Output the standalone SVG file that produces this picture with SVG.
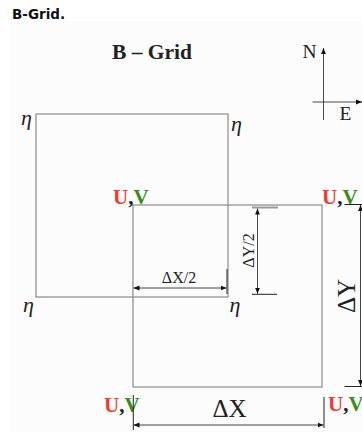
<svg xmlns="http://www.w3.org/2000/svg" width="362" height="432" viewBox="0 0 362 432">
<defs>
<style>
.cell{fill:none;stroke:#8a8a8a;stroke-width:1.2}
.dim{fill:none;stroke:#333;stroke-width:0.9}
.tick{fill:none;stroke:#222;stroke-width:1}
.eta{font-family:"Liberation Serif","Times New Roman",serif;font-style:italic;font-size:22px;fill:#222}
.uv{font-family:"Liberation Serif","Times New Roman",serif;font-weight:bold;font-size:21px}
.u{fill:#ee3b35}
.v{fill:#3a8c1c}
.c{fill:#222}
.lab{font-family:"Liberation Serif","Times New Roman",serif;fill:#222}
</style>
<marker id="ah" viewBox="0 0 10 10" refX="10" refY="5" markerWidth="6" markerHeight="6" markerUnits="userSpaceOnUse" orient="auto-start-reverse">
<path d="M0,1 L10,5 L0,9 Z" fill="#111"/>
</marker>
</defs>
<rect x="0" y="0" width="362" height="432" fill="#ffffff"/>
<rect x="10" y="21" width="352" height="411" fill="#fcfcfc"/>
<text x="12" y="19" font-family="DejaVu Sans, sans-serif" font-weight="bold" font-size="13.5" fill="#111">B-Grid.</text>
<text x="152" y="59" text-anchor="middle" font-family="Liberation Serif, serif" font-weight="bold" font-size="21.5" fill="#222">B – Grid</text>

<g id="compass">
<line class="dim" x1="323.5" y1="120" x2="323.5" y2="48" marker-end="url(#ah)" stroke="#666"/>
<line class="dim" x1="312.5" y1="102" x2="362" y2="102" marker-end="url(#ah)" stroke="#666"/>
<text class="lab" x="302.5" y="58" font-size="19.5">N</text>
<text class="lab" x="339.5" y="120" font-size="19.5">E</text>
</g>

<g id="eta-cell">
<rect class="cell" x="36" y="114" width="192" height="183"/>
<text class="eta" x="21" y="125">η</text>
<text class="eta" x="231" y="131">η</text>
<text class="eta" x="23" y="312">η</text>
<text class="eta" x="229.5" y="312">η</text>
</g>

<g id="uv-cell">
<rect class="cell" x="133" y="205" width="189" height="182"/>
<text class="uv" x="113" y="204"><tspan class="u">U</tspan><tspan class="c">,</tspan><tspan class="v">V</tspan></text>
<text class="uv" x="322" y="203.5"><tspan class="u">U</tspan><tspan class="c">,</tspan><tspan class="v">V</tspan></text>
<text class="uv" x="104" y="412"><tspan class="u">U</tspan><tspan class="c">,</tspan><tspan class="v">V</tspan></text>
<text class="uv" x="328" y="411"><tspan class="u">U</tspan><tspan class="c">,</tspan><tspan class="v">V</tspan></text>
</g>

<g id="connectors">
<!-- dX/2 -->
<line class="dim" x1="133.5" y1="288" x2="226.5" y2="288" marker-start="url(#ah)" marker-end="url(#ah)"/>
<line class="tick" x1="227" y1="269" x2="227" y2="294"/>
<!-- dY/2 -->
<line x1="252" y1="207.5" x2="278" y2="207.5" stroke="#9a9a9a" stroke-width="2"/>
<line class="dim" x1="257.5" y1="208.5" x2="257.5" y2="293.8" marker-start="url(#ah)" marker-end="url(#ah)"/>
<line class="tick" x1="252" y1="294.3" x2="277" y2="294.3"/>
<!-- dY -->
<line class="tick" x1="344.5" y1="204.5" x2="362" y2="204.5"/>
<line class="tick" x1="344.5" y1="386.5" x2="362" y2="386.5"/>
<line class="dim" x1="360.5" y1="205" x2="360.5" y2="386" marker-start="url(#ah)" marker-end="url(#ah)"/>
<!-- dX -->
<line class="tick" x1="133.3" y1="395" x2="133.3" y2="430"/>
<line class="tick" x1="324" y1="397" x2="324" y2="428"/>
<line class="dim" x1="133.5" y1="425" x2="323.5" y2="425" marker-start="url(#ah)" marker-end="url(#ah)"/>
</g>

<g id="labels">
<text class="lab" x="179" y="283" text-anchor="middle" font-size="16">ΔX/2</text>
<text class="lab" transform="translate(254,250.5) rotate(-90)" text-anchor="middle" font-size="16">ΔY/2</text>
<text class="lab" x="229.5" y="416.5" text-anchor="middle" font-size="25">ΔX</text>
<text class="lab" transform="translate(355,296) rotate(-90)" text-anchor="middle" font-size="25">ΔY</text>
</g>
</svg>
